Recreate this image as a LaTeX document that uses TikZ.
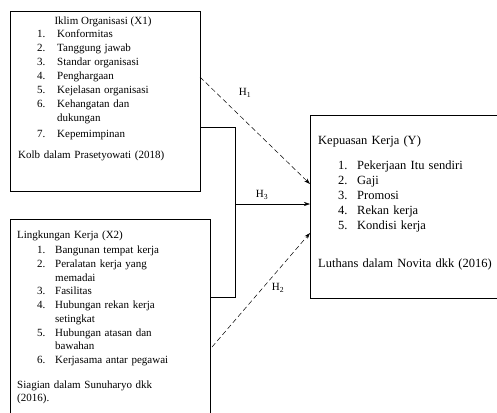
\documentclass[tikz,border=0pt]{standalone}
\usepackage{fontspec}
\setmainfont{Liberation Serif}
\usetikzlibrary{arrows.meta}
\tikzset{
  box/.style={draw, line width=0.6pt, inner sep=0pt, anchor=north west},
  txt/.style={inner sep=0pt, anchor=base west, align=left, text width=180pt,
    font=\fontsize{11}{14}\selectfont},
  ytxt/.style={txt, font=\fontsize{12.5}{15}\selectfont},
  hyp/.style={-{Stealth[length=6pt,width=4pt]}, line width=0.5pt},
  hypdash/.style={hyp, dash pattern=on 5pt off 3pt},
  lbl/.style={inner sep=0pt, font=\fontsize{11}{13}\selectfont}
}
\newcommand{\numlbl}[2][20pt]{\makebox[#1][l]{#2}}
\begin{document}
\begin{tikzpicture}[x=1pt, y=-1pt]
\useasboundingbox (0,0) rectangle (497,412);
% boxes
\node[box, minimum width=190pt, minimum height=180pt] (x1) at (10,11) {};
\node[box, minimum width=200pt, minimum height=210pt] (x2) at (10,219) {};
\node[box, minimum width=186.5pt, minimum height=183pt] (y) at (310,115) {};

% X1
\node[lbl] (x1title) at (103,22) {Iklim Organisasi (X1)};
\node[txt] (x1list) at (37,37.5) {%
  \numlbl{1.}Konformitas\\
  \numlbl{2.}Tanggung jawab\\
  \numlbl{3.}Standar organisasi\\
  \numlbl{4.}Penghargaan\\
  \numlbl{5.}Kejelasan organisasi\\
  \numlbl{6.}Kehangatan dan\\
  \numlbl{}dukungan\\[2pt]
  \numlbl{7.}Kepemimpinan};
\node[txt] (x1src) at (18,158.5) {Kolb dalam Prasetyowati (2018)};

% X2
\node[txt] (x2title) at (17,238.5) {Lingkungan Kerja (X2)};
\node[txt, font=\fontsize{11}{13.75}\selectfont] (x2list) at (37,253.5) {%
  \numlbl[18pt]{1.}Bangunan tempat kerja\\
  \numlbl[18pt]{2.}Peralatan kerja yang\\
  \numlbl[18pt]{}memadai\\
  \numlbl[18pt]{3.}Fasilitas\\
  \numlbl[18pt]{4.}Hubungan rekan kerja\\
  \numlbl[18pt]{}setingkat\\
  \numlbl[18pt]{5.}Hubungan atasan dan\\
  \numlbl[18pt]{}bawahan\\
  \numlbl[18pt]{6.}Kerjasama antar pegawai};
\node[txt, font=\fontsize{11}{13}\selectfont] (x2src) at (17,388.5) {Siagian dalam Sunuharyo dkk\\(2016).};

% Y
\node[ytxt] (ytitle) at (318,144) {Kepuasan Kerja (Y)};
\node[ytxt] (ylist) at (338,169) {%
  \numlbl[19pt]{1.}Pekerjaan Itu sendiri\\
  \numlbl[19pt]{2.}Gaji\\
  \numlbl[19pt]{3.}Promosi\\
  \numlbl[19pt]{4.}Rekan kerja\\
  \numlbl[19pt]{5.}Kondisi kerja};
\node[ytxt] (ysrc) at (318,267) {Luthans dalam Novita dkk (2016)};

% connectors
\coordinate (h1s) at (200,77);
\coordinate (h1e) at (310,184);
\coordinate (h2s) at (212,347);
\coordinate (h2e) at (310,233);
\coordinate (h3a) at (200,127);
\coordinate (h3b) at (210,297);
\coordinate (h3j) at (235,204);

\draw[hypdash] (h1s) -- (h1e);
\draw[hypdash] (h2s) -- (h2e);
\draw[line width=0.5pt] (h3a) -- (h3j |- h3a) -- (h3j |- h3b) -- (h3b);
\draw[hyp] (h3j) -- (h3j -| y.west);

\node[lbl] (h1) at (245,93) {H\textsubscript{1}};
\node[lbl] (h3) at (262,195) {H\textsubscript{3}};
\node[lbl] (h2) at (278,288) {H\textsubscript{2}};
\end{tikzpicture}
\end{document}
